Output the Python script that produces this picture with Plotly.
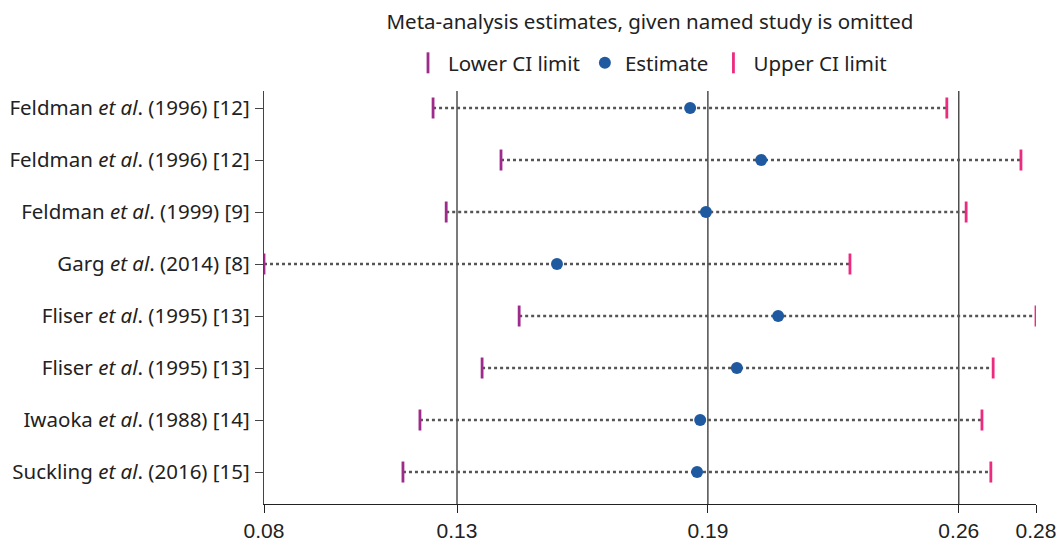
import plotly.graph_objects as go

studies = [
    "Feldman <i>et al</i>. (1996) [12]",
    "Feldman <i>et al</i>. (1996) [12]",
    "Feldman <i>et al</i>. (1999) [9]",
    "Garg <i>et al</i>. (2014) [8]",
    "Fliser <i>et al</i>. (1995) [13]",
    "Fliser <i>et al</i>. (1995) [13]",
    "Iwaoka <i>et al</i>. (1988) [14]",
    "Suckling <i>et al</i>. (2016) [15]",
]
lower_ci = [0.1238, 0.1414, 0.1272, 0.0800, 0.1461, 0.1365, 0.1204, 0.1160]
estimate = [0.1904, 0.2088, 0.1945, 0.1559, 0.2132, 0.2025, 0.1930, 0.1922]
upper_ci = [0.2569, 0.2761, 0.2619, 0.2318, 0.2800, 0.2689, 0.2660, 0.2683]

x_tick_vals = [0.08, 0.13, 0.195, 0.26, 0.28]
x_tick_text = ["0.08", "0.13", "0.19", "0.26", "0.28"]
grid_vals = [0.13, 0.195, 0.26]

rows = list(range(len(studies)))

LOWER_COLOR = "#9e2a8c"
UPPER_COLOR = "#ec2a7f"
EST_COLOR = "#1f5aa0"

fig = go.Figure()

# dotted connectors
lx, ly = [], []
for r, lo, hi in zip(rows, lower_ci, upper_ci):
    lx += [lo, hi, None]
    ly += [r, r, None]
fig.add_trace(go.Scatter(x=lx, y=ly, mode="lines", showlegend=False, hoverinfo="skip",
                         line=dict(color="#555555", width=2.5, dash="dot")))

fig.add_trace(go.Scatter(x=lower_ci, y=rows, mode="markers", name="Lower CI limit",
                         marker=dict(symbol="line-ns", size=15,
                                     line=dict(color=LOWER_COLOR, width=2.8))))
fig.add_trace(go.Scatter(x=estimate, y=rows, mode="markers", name="Estimate",
                         marker=dict(symbol="circle", size=12, color=EST_COLOR)))
fig.add_trace(go.Scatter(x=upper_ci, y=rows, mode="markers", name="Upper CI limit",
                         marker=dict(symbol="line-ns", size=15,
                                     line=dict(color=UPPER_COLOR, width=2.8))))

for g in grid_vals:
    fig.add_shape(type="line", xref="x", yref="paper", x0=g, x1=g, y0=0, y1=1,
                  line=dict(color="#222222", width=1.2), layer="below")

fig.update_layout(
    width=1062, height=543,
    margin=dict(l=264, r=26, t=91, b=39, autoexpand=False),
    paper_bgcolor="white", plot_bgcolor="white",
    font=dict(family="Noto Sans", size=20, color="#222222"),
    title=dict(text="Meta-analysis estimates, given named study is omitted",
               x=0.5, xref="paper", xanchor="center", y=1 - 22 / 543, yanchor="middle",
               font=dict(family="Noto Sans", size=20.5, color="#222222")),
    legend=dict(orientation="h", x=0.5, xanchor="center", y=1 + 28 / 413, yanchor="middle",
                xref="paper", yref="paper",
                font=dict(family="Noto Sans", size=20.5, color="#222222"),
                itemwidth=30, tracegroupgap=0, bgcolor="rgba(0,0,0,0)"),
    xaxis=dict(range=[0.08, 0.28], tickvals=x_tick_vals, ticktext=x_tick_text,
               automargin=False,
               showgrid=False, zeroline=False, showline=True, linecolor="#222222", linewidth=1.2,
               ticks="outside", ticklen=8, tickcolor="#222222", tickwidth=1.2,
               tickfont=dict(family="Liberation Sans", size=21, color="#222222")),
    yaxis=dict(range=[7.615, -0.327], tickvals=rows, ticktext=studies,
               automargin=False,
               showgrid=False, zeroline=False, showline=True, linecolor="#444444", linewidth=1.2,
               ticks="outside", ticklen=8, tickcolor="#444444", tickwidth=1.2,
               ticklabelstandoff=1,
               tickfont=dict(family="Noto Sans", size=20.5, color="#222222")),
)

fig.write_html("out.html")
